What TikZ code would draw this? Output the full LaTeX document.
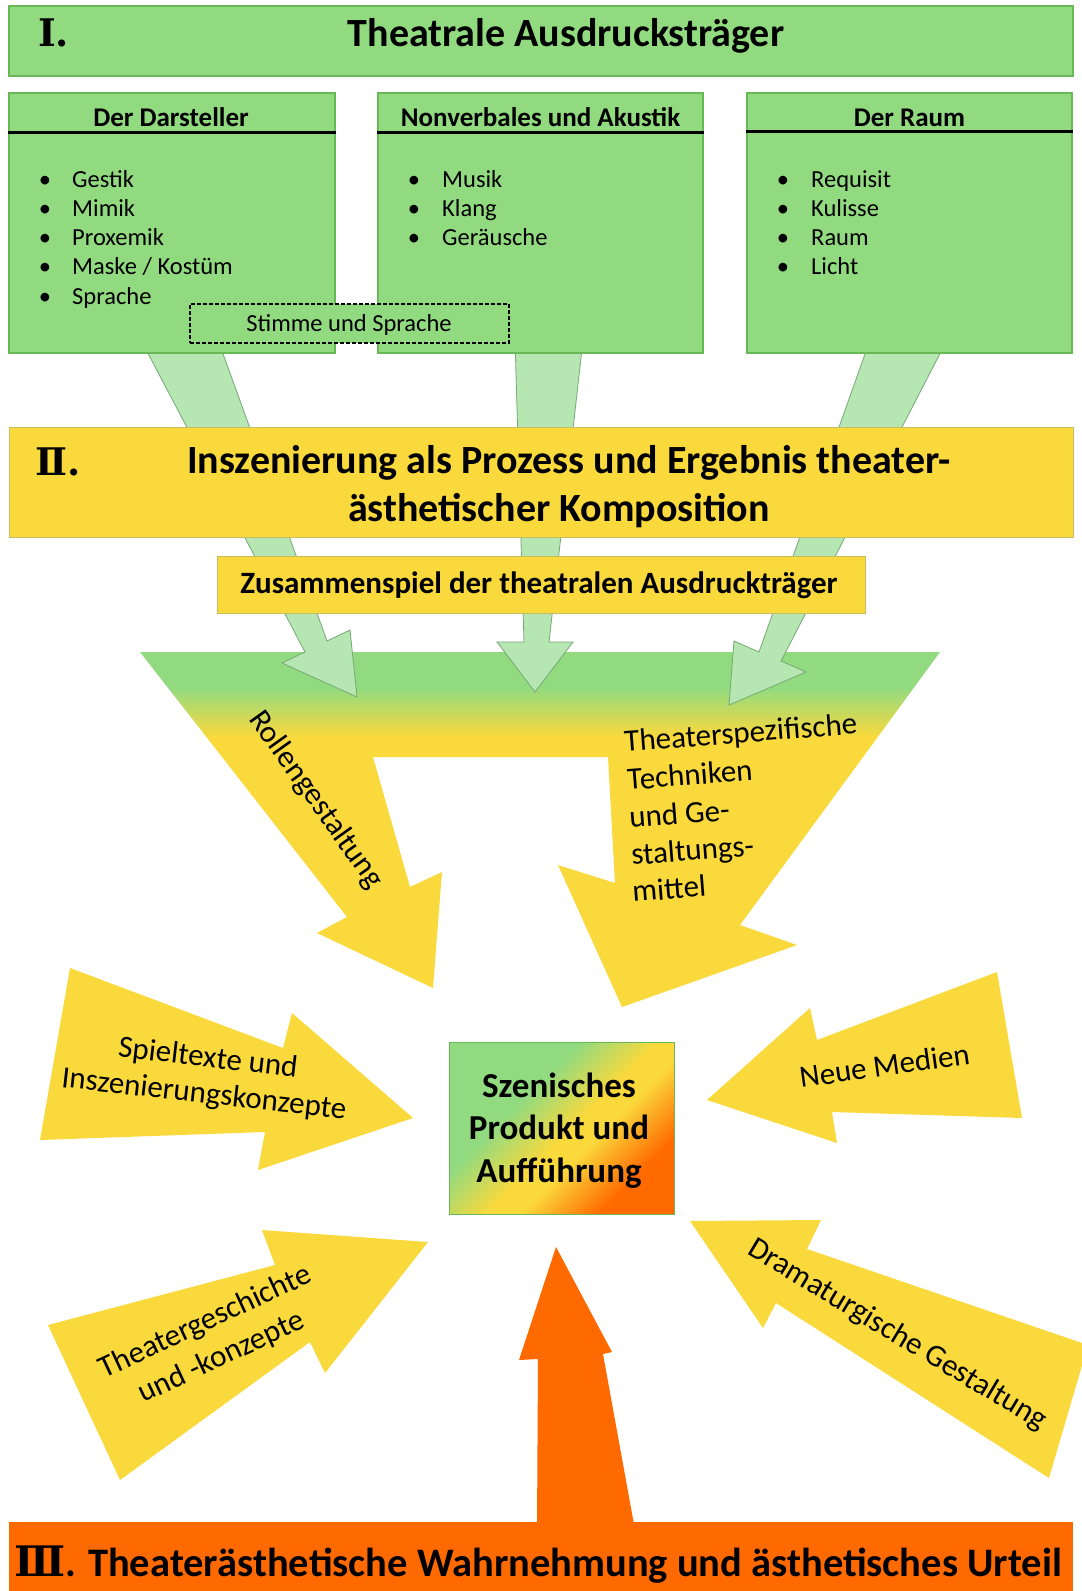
\documentclass[tikz,border=0pt]{standalone}
\usepackage{fontspec}
\setmainfont{Carlito}
\newfontfamily\numfont{DejaVu Serif}
\definecolor{grn}{RGB}{146,218,128}
\definecolor{grnb}{RGB}{104,184,86}
\definecolor{lgrn}{RGB}{182,231,178}
\definecolor{lgrnb}{RGB}{118,168,118}
\definecolor{yel}{RGB}{250,217,60}
\definecolor{yelb}{RGB}{196,190,96}
\definecolor{org}{RGB}{255,106,0}
\pgfdeclareverticalshading{funnelsh}{100bp}{color(0bp)=(yel); color(63bp)=(yel); color(70bp)=(grn); color(100bp)=(grn)}
\pgfdeclarehorizontalshading{boxsh}{100bp}{color(0bp)=(grn); color(38bp)=(grn); color(52bp)=(yel); color(58bp)=(yel); color(72bp)=(org); color(100bp)=(org)}
\tikzset{
  gbox/.style={draw=grnb, line width=1.2pt, fill=grn, inner sep=0pt},
  ybox/.style={draw=yelb, line width=0.8pt, fill=yel, inner sep=0pt},
  hline/.style={line width=2.5pt, black},
  larrow/.style={fill=lgrn, draw=lgrnb, line width=0.8pt},
  yarrow/.style={fill=yel},
  oarrow/.style={fill=org},
  ttl/.style={anchor=base, inner sep=0pt, font=\bfseries\fontsize{40}{48}\selectfont},
  hdr/.style={anchor=base, inner sep=0pt, font=\bfseries\fontsize{27}{32}\selectfont},
  itm/.style={anchor=base west, inner sep=0pt, font=\fontsize{24.5}{29}\selectfont},
  bul/.style={anchor=base, inner sep=0pt, font=\fontsize{24.5}{29}\selectfont},
  atxt/.style={anchor=base, inner sep=0pt, font=\fontsize{31}{37}\selectfont},
  ftxt/.style={anchor=base west, inner sep=0pt, rotate=4.5, font=\fontsize{31}{37}\selectfont},
  ctxt/.style={anchor=base, inner sep=0pt, font=\bfseries\fontsize{35}{42}\selectfont},
  num/.style={anchor=base west, inner sep=0pt, font=\numfont\bfseries\fontsize{38}{44}\selectfont},
}
\begin{document}
\begin{tikzpicture}[x=1pt,y=-1pt]
\useasboundingbox (0,0) rectangle (1082,1591);
\begin{scope}
\clip (0,0) rectangle (1082,1591);
\fill[white] (0,0) rectangle (1082,1591);

% funnel (two arrows)
\shade[shading=funnelsh] (140,652) -- (347,917) -- (317,933) -- (433,988) -- (442,872) -- (410,887) -- (373,757) -- (608,757) -- (615,883) -- (558,865) -- (622,1007) -- (797,945) -- (740,925) -- (940,652) -- cycle;

% side arrows
\fill[yarrow] (70,968) -- (283,1048) -- (292,1013) -- (413,1118) -- (258,1170) -- (265,1132) -- (40,1140) -- cycle;
\fill[yarrow] (997,972) -- (1022,1118) -- (832,1112) -- (837,1143) -- (707,1100) -- (810,1008) -- (817,1040) -- cycle;
\fill[yarrow] (48,1325) -- (275,1265) -- (262,1230) -- (428,1242) -- (325,1373) -- (310,1342) -- (120,1480) -- cycle;
\fill[yarrow] (690,1221) -- (821,1220) -- (807,1249) -- (1088,1345) -- (1049,1478) -- (776,1303) -- (763,1328) -- cycle;

% orange arrow
\fill[oarrow] (556,1247) -- (612,1352) -- (603,1354) -- (635,1530) -- (537,1530) -- (538,1359) -- (519,1360) -- cycle;

% light green arrows
\draw[larrow] (141,340) -- (218,340) -- (327,641) -- (350,630) -- (357,697) -- (282,663) -- (305,652) -- cycle;
\draw[larrow] (515,340) -- (583,340) -- (549,642) -- (573,642) -- (535,692) -- (497,642) -- (524,642) -- cycle;
\draw[larrow] (870,340) -- (947,340) -- (781,661) -- (806,672) -- (729,705) -- (734,641) -- (759,652) -- cycle;

% banner II
\node[ybox, minimum width=1064, minimum height=110] (ban2) at (541,482) {};
\node[num] (n2) at (35,475) {Ⅱ.};
\node[ttl] (t2a) at (569,473) {Inszenierung als Prozess und Ergebnis theater-};
\node[ttl] (t2b) at (559,521) {ästhetischer Komposition};

% Zusammenspiel
\node[ybox, minimum width=648, minimum height=57] (zus) at (541,584.5) {};
\node[anchor=base, inner sep=0pt, font=\bfseries\fontsize{31}{37}\selectfont] (zust) at (539,593) {Zusammenspiel der theatralen Ausdruckträger};

% section I
\node[gbox, minimum width=1064, minimum height=70] (ban1) at (541,41) {};
\node[num] (n1) at (38,46) {Ⅰ.};
\node[ttl] (t1) at (566,46) {Theatrale Ausdrucksträger};

\node[gbox, minimum width=326, minimum height=260] (box1) at (172,223) {};
\node[gbox, minimum width=325, minimum height=260] (box2) at (540.5,223) {};
\node[gbox, minimum width=325, minimum height=260] (box3) at (909.5,223) {};
\draw[hline] ([yshift=-40pt]box1.north west) -- ([yshift=-40pt]box1.north east);
\draw[hline] ([yshift=-40pt]box2.north west) -- ([yshift=-40pt]box2.north east);
\draw[hline] ([yshift=-39pt]box3.north west) -- ([yshift=-39pt]box3.north east);
\node[hdr] (h1) at (171,126) {Der Darsteller};
\node[hdr] (h2) at (540.5,126) {Nonverbales und Akustik};
\node[hdr] (h3) at (909.5,126) {Der Raum};

\foreach \t [count=\i] in {Gestik,Mimik,Proxemik,Maske / Kostüm,Sprache} {
  \node[bul] (ba\i) at (45,{187+29.3*(\i-1)}) {•};
  \node[itm] (ia\i) at (72,{187+29.3*(\i-1)}) {\t};
}
\foreach \t [count=\i] in {Musik,Klang,Geräusche} {
  \node[bul] (bb\i) at (414,{187+29.3*(\i-1)}) {•};
  \node[itm] (ib\i) at (442,{187+29.3*(\i-1)}) {\t};
}
\foreach \t [count=\i] in {Requisit,Kulisse,Raum,Licht} {
  \node[bul] (bc\i) at (783,{187+29.3*(\i-1)}) {•};
  \node[itm] (ic\i) at (811,{187+29.3*(\i-1)}) {\t};
}
\node[draw=black, dash pattern=on 4pt off 2pt, line width=2pt, fill=grn, minimum width=319, minimum height=39, inner sep=0pt] (stim) at (349.5,323.5) {};
\node[anchor=base, inner sep=0pt, font=\fontsize{24.5}{29}\selectfont] (stimt) at (349,331) {Stimme und Sprache};

% funnel texts
\node[anchor=center, inner sep=0pt, rotate=-54.5, font=\fontsize{31}{37}\selectfont] (roll) at (316,800) {Rollengestaltung};
\node[ftxt] (th1) at (625,752) {Theaterspezifische};
\node[ftxt] (th2) at (628,790) {Techniken};
\node[ftxt] (th3) at (630,828) {und Ge-};
\node[ftxt] (th4) at (632,865) {staltungs-};
\node[ftxt] (th5) at (633,902) {mittel};

% side arrow texts
\node[atxt, rotate=-6.6] (sp1) at (207,1067) {Spieltexte und};
\node[atxt, rotate=-6.4] (sp2) at (203,1103) {Inszenierungskonzepte};
\node[atxt, rotate=8] (nm) at (886,1076) {Neue Medien};
\node[atxt, rotate=25] (tg1) at (209,1330) {Theatergeschichte};
\node[atxt, rotate=25] (tg2) at (225,1365) {und -konzepte};
\node[anchor=center, inner sep=0pt, rotate=-31, font=\fontsize{31}{37}\selectfont] (dg) at (897,1335) {Dramaturgische Gestaltung};

% center box
\shade[shading=boxsh, shading angle=-45, draw=grnb, line width=1pt] (449,1042) rectangle (674,1214);
\node[inner sep=0pt, minimum width=225, minimum height=172] (cbox) at (561.5,1128) {};
\node[ctxt] (c1) at (559,1097) {Szenisches};
\node[ctxt] (c2) at (559,1139.5) {Produkt und};
\node[ctxt] (c3) at (559,1182) {Aufführung};

% bottom bar
\node[fill=org, minimum width=1064, minimum height=80, inner sep=0pt] (ban3) at (541,1562) {};
\node[anchor=base, inner sep=0pt, font=\bfseries\fontsize{40.5}{48}\selectfont] (t3) at (538,1576) {{\numfont\fontsize{42}{48}\selectfont Ⅲ}. Theaterästhetische Wahrnehmung und ästhetisches Urteil};
\end{scope}
\end{tikzpicture}
\end{document}
